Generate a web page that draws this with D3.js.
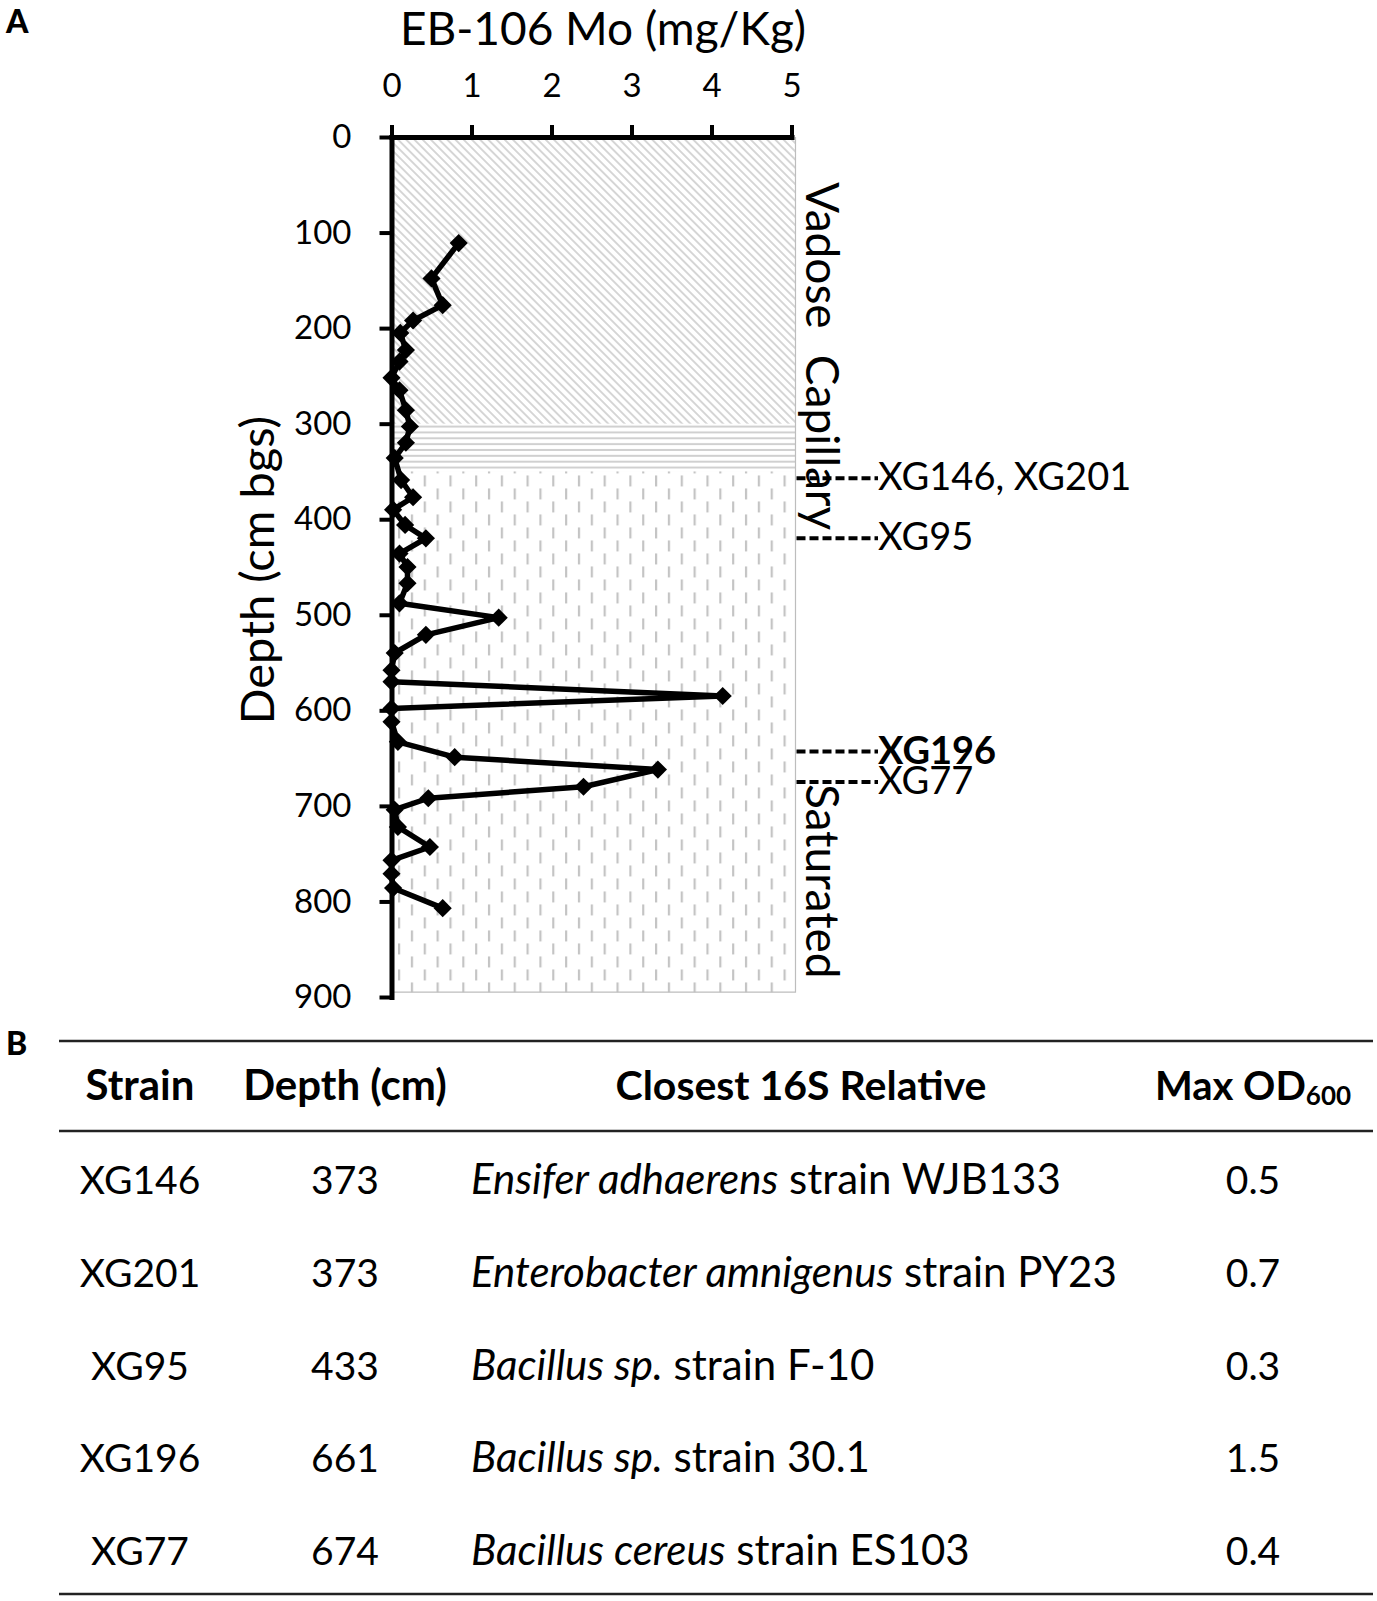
<!DOCTYPE html>
<html><head><meta charset="utf-8">
<script src="https://cdn.jsdelivr.net/npm/d3@7"></script>
<style>
body{margin:0;background:#fff}
svg{display:block}
text{font-family:Lato,"Open Sans",sans-serif;fill:#000}
</style>
</head><body>
<svg id="c" width="1377" height="1601"></svg>
<script>
// ---------- data ----------
const depthCm = [111,148,176,192,205,223,235,252,265,286,303,320,336,359,377,390,406,420,436,450,467,488,503,521,540,558,570,585,598,612,633,649,662,680,692,704,722,743,757,771,786,807];
const moMgKg  = [0.84,0.50,0.64,0.27,0.11,0.18,0.10,0.00,0.10,0.18,0.23,0.18,0.04,0.12,0.27,0.02,0.17,0.43,0.10,0.20,0.20,0.10,1.34,0.43,0.04,0.00,0.00,4.14,0.00,0.00,0.08,0.79,3.33,2.40,0.46,0.04,0.08,0.48,0.00,0.00,0.02,0.64];
const xTicks = [0,1,2,3,4,5];
const yTicks = [0,100,200,300,400,500,600,700,800,900];
const zoneNames  = ["Vadose","Capillary","Saturated"];
const zoneTop    = [0,300,350];
const zoneBottom = [300,350,895];
const zoneLabelAt = [47,228,677];
const annotLabels = ["XG146, XG201","XG95","XG196","XG77"];
const annotDepth  = [357,420,643,675];
const annotBold   = [false,false,true,false];
// table
const tblStrain = ["XG146","XG201","XG95","XG196","XG77"];
const tblDepth  = ["373","373","433","661","674"];
const tblGenus  = ["Ensifer adhaerens","Enterobacter amnigenus","Bacillus sp.","Bacillus sp.","Bacillus cereus"];
const tblRest   = [" strain WJB133"," strain PY23"," strain F-10"," strain 30.1"," strain ES103"];
const tblOD     = ["0.5","0.7","0.3","1.5","0.4"];

// ---------- chart ----------
const svg = d3.select("#c");
svg.append("rect").attr("width",1377).attr("height",1601).attr("fill","#fff");
const x = d3.scaleLinear().domain([0,5]).range([391.5,791.5]);
const y = d3.scaleLinear().domain([0,900]).range([137,997]);
const zoneRight = x(5.05);

const defs = svg.append("defs");
const pV = defs.append("pattern").attr("id","pVadose").attr("patternUnits","userSpaceOnUse")
  .attr("width",5.8).attr("height",6).attr("patternTransform","rotate(-45)");
pV.append("line").attr("x1",2.9).attr("x2",2.9).attr("y1",0).attr("y2",6)
  .attr("stroke","#d2d2d2").attr("stroke-width",1.8);
const pC = defs.append("pattern").attr("id","pCap").attr("patternUnits","userSpaceOnUse")
  .attr("x",0).attr("y",y(300)).attr("width",10).attr("height",5.85);
pC.append("rect").attr("x",0).attr("y",1.9).attr("width",10).attr("height",2).attr("fill","#d0d0d0");
const pS = defs.append("pattern").attr("id","pSat").attr("patternUnits","userSpaceOnUse")
  .attr("x",398).attr("y",y(350)+4).attr("width",25.7).attr("height",26);
pS.append("rect").attr("x",0).attr("y",0).attr("width",2.2).attr("height",11).attr("fill","#c4c4c4");
pS.append("rect").attr("x",12.85).attr("y",13).attr("width",2.2).attr("height",11).attr("fill","#c4c4c4");
const fills = ["url(#pVadose)","url(#pCap)","url(#pSat)"];

svg.append("g").selectAll("rect").data(zoneNames).join("rect")
  .attr("x",x(0)).attr("width",zoneRight-x(0))
  .attr("y",(d,i)=>y(zoneTop[i])).attr("height",(d,i)=>y(zoneBottom[i])-y(zoneTop[i]))
  .attr("fill",(d,i)=>fills[i]);
svg.append("path")
  .attr("d",`M${zoneRight},${y(0)}V${y(zoneBottom[2])}H${x(0)}`)
  .attr("fill","none").attr("stroke","#bdbdbd").attr("stroke-width",1.2);

// zone labels
svg.append("g").selectAll("text").data(zoneNames).join("text")
  .attr("transform",(d,i)=>`translate(806,${y(zoneLabelAt[i])}) rotate(90)`)
  .attr("font-size",46).text(d=>d);

// annotations
const ann = svg.append("g");
ann.selectAll("line").data(annotLabels).join("line")
  .attr("x1",zoneRight+1).attr("x2",878)
  .attr("y1",(d,i)=>y(annotDepth[i])).attr("y2",(d,i)=>y(annotDepth[i]))
  .attr("stroke","#000").attr("stroke-width",4).attr("stroke-dasharray","9,4");
ann.selectAll("text").data(annotLabels).join("text")
  .attr("x",878).attr("y",(d,i)=>y(annotDepth[i])).attr("dy","0.32em")
  .attr("font-size",38).attr("font-weight",(d,i)=>annotBold[i]?"bold":"normal").text(d=>d);

// axes
const gx = svg.append("g").attr("transform",`translate(0,${y(0)})`)
  .call(d3.axisTop(x).tickValues(xTicks).tickFormat(d3.format("d")).tickSize(12).tickSizeOuter(0).tickPadding(28));
const gy = svg.append("g").attr("transform",`translate(${x(0)},0)`)
  .call(d3.axisLeft(y).tickValues(yTicks).tickFormat(d3.format("d")).tickSize(12).tickSizeOuter(0).tickPadding(28));
[gx,gy].forEach(g=>{
  g.select(".domain").attr("stroke","#000").attr("stroke-width",5).attr("stroke-linecap","square");
  g.selectAll(".tick line").attr("stroke","#000").attr("stroke-width",4);
  g.selectAll(".tick text").attr("font-size",33).attr("font-family","Lato").attr("fill","#000");
});

// axis titles
svg.append("text").attr("x",603).attr("y",45).attr("text-anchor","middle")
  .attr("font-size",46).text("EB-106 Mo (mg/Kg)");
svg.append("text").attr("transform","translate(274,570) rotate(-90)").attr("text-anchor","middle")
  .attr("font-size",47).text("Depth (cm bgs)");

// series
const pts = depthCm.map((d,i)=>({d, v: moMgKg[i]}));
svg.append("path").datum(pts)
  .attr("d",d3.line().x(p=>x(p.v)).y(p=>y(p.d)))
  .attr("fill","none").attr("stroke","#000").attr("stroke-width",5.5).attr("stroke-linejoin","round");
svg.append("g").selectAll("path").data(pts).join("path")
  .attr("transform",p=>`translate(${x(p.v)},${y(p.d)}) rotate(45)`)
  .attr("d",d3.symbol(d3.symbolSquare,165)()).attr("fill","#000");

// panel labels
svg.append("text").attr("x",6).attr("y",33).attr("font-size",32).attr("font-weight",900).text("A");
svg.append("text").attr("x",6).attr("y",1055).attr("font-size",32).attr("font-weight",900).text("B");

// ---------- table ----------
const tbl = svg.append("g");
const ruleX0 = 59, ruleX1 = 1373;
[1041,1131,1594].forEach(ry=>{
  tbl.append("line").attr("x1",ruleX0).attr("x2",ruleX1).attr("y1",ry).attr("y2",ry)
    .attr("stroke","#222").attr("stroke-width",2.5);
});
const colStrain = 140, colDepth = 345, colRel = 471, colRelHead = 801, colOD = 1253;
const headY = 1100;
tbl.append("text").attr("x",colStrain).attr("y",headY).attr("text-anchor","middle")
  .attr("font-size",42).attr("font-weight","bold").text("Strain");
tbl.append("text").attr("x",colDepth).attr("y",headY).attr("text-anchor","middle")
  .attr("font-size",42).attr("font-weight","bold").text("Depth (cm)");
tbl.append("text").attr("x",colRelHead).attr("y",headY).attr("text-anchor","middle")
  .attr("font-size",41).attr("font-weight","bold").text("Closest 16S Relative");
const odH = tbl.append("text").attr("x",colOD).attr("y",headY).attr("text-anchor","middle")
  .attr("font-size",40).attr("font-weight","bold");
odH.append("tspan").text("Max OD");
odH.append("tspan").attr("font-size",26).attr("dy",5).text("600");

const rowY = i => 1194 + i*92.8;
const rows = tbl.selectAll("g.row").data(tblStrain).join("g").attr("class","row");
rows.append("text").attr("x",colStrain).attr("y",(d,i)=>rowY(i)).attr("text-anchor","middle")
  .attr("font-size",39).text(d=>d);
rows.append("text").attr("x",colDepth).attr("y",(d,i)=>rowY(i)).attr("text-anchor","middle")
  .attr("font-size",39).text((d,i)=>tblDepth[i]);
const rel = rows.append("text").attr("x",colRel).attr("y",(d,i)=>rowY(i)).attr("font-size",42);
rel.append("tspan").attr("font-style","italic").text((d,i)=>tblGenus[i]);
rel.append("tspan").text((d,i)=>tblRest[i]);
rows.append("text").attr("x",colOD).attr("y",(d,i)=>rowY(i)).attr("text-anchor","middle")
  .attr("font-size",39).text((d,i)=>tblOD[i]);
</script>
</body></html>
